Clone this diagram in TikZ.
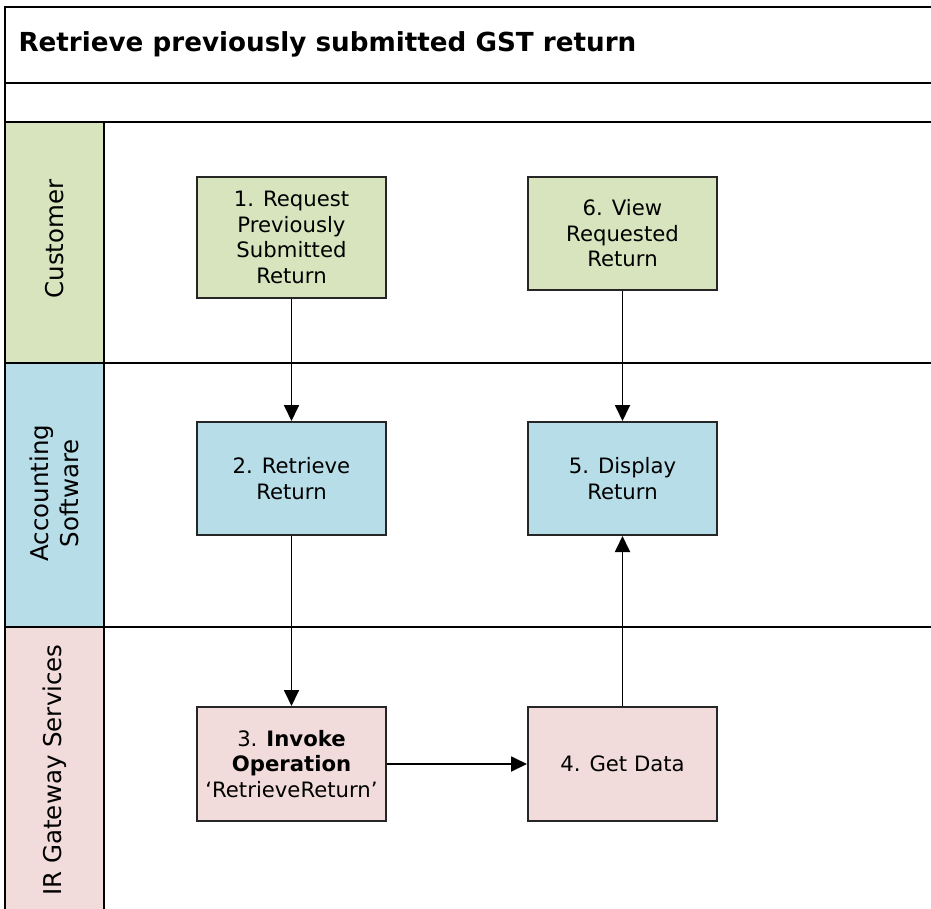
\documentclass[tikz,border=0pt]{standalone}
\usepackage{fontspec}
\setmainfont{DejaVu Sans}
\usepackage{tikz}
\usetikzlibrary{positioning,arrows.meta}

\definecolor{custgreen}{HTML}{D7E4BD}
\definecolor{softblue}{HTML}{B7DDE8}
\definecolor{gatepink}{HTML}{F2DCDB}

\newcommand{\titlefont}{\fontsize{26.2}{31}\selectfont\bfseries}
\newcommand{\lanefont}{\fontsize{24.5}{29.5}\selectfont}
\newcommand{\boxfont}{\fontsize{21.2}{25.5}\selectfont}

\begin{document}
\begin{tikzpicture}[
    x=1pt, y=-1pt,
    laneline/.style={draw, line width=2.3pt},
    lanelabel/.style={rotate=90, align=center, font=\lanefont},
    process/.style={rectangle, draw=black!85, line width=2pt,
        minimum width=189pt, minimum height=113pt, align=center, font=\boxfont},
    arrowstyle/.style={draw, line width=1.8pt, -{Triangle[length=16pt,width=15pt]}}
]
\clip (0,0) rectangle (931,909);

% lanes
\fill[custgreen] (5,122) rectangle (104,363);
\fill[softblue] (5,363) rectangle (104,627);
\fill[gatepink] (5,627) rectangle (104,940);
\draw[laneline] (5,7) rectangle (960,940);
\draw[laneline] (5,83) -- (960,83);
\draw[laneline] (5,122) -- (960,122);
\draw[laneline] (5,363) -- (960,363);
\draw[laneline] (5,627) -- (960,627);
\draw[laneline] (104,122) -- (104,940);

\node (Title) [anchor=west, font=\titlefont] at (15,44) {Retrieve previously submitted GST return};
\node (CustomerLane) [lanelabel] at (54.5,239) {Customer};
\node (SoftwareLane) [lanelabel] at (54.5,493) {Accounting\\Software};
\node (GatewayLane) [lanelabel] at (54.5,770) {IR Gateway Services};

% steps
\node (Request) [process, fill=custgreen, minimum height=121pt] at (291.5,237.5)
    {1. Request\\Previously\\Submitted\\Return};
\node (Retrieve) [process, fill=softblue, below=122pt of Request] {2. Retrieve\\Return};
\node (Invoke) [process, fill=gatepink, minimum height=114pt, below=170pt of Retrieve]
    {3. \textbf{Invoke}\\\textbf{Operation}\\‘RetrieveReturn’};
\node (GetData) [process, fill=gatepink, minimum height=114pt, right=140pt of Invoke] {4. Get Data};
\node (Display) [process, fill=softblue, above=170pt of GetData] {5. Display\\Return};
\node (View) [process, fill=custgreen, above=130pt of Display] {6. View\\Requested\\Return};

\draw[arrowstyle] (Request) -- (Retrieve);
\draw[arrowstyle] (Retrieve) -- (Invoke);
\draw[arrowstyle] (Invoke) -- (GetData);
\draw[arrowstyle] (GetData) -- (Display);
\draw[arrowstyle] (View) -- (Display);
\end{tikzpicture}
\end{document}
